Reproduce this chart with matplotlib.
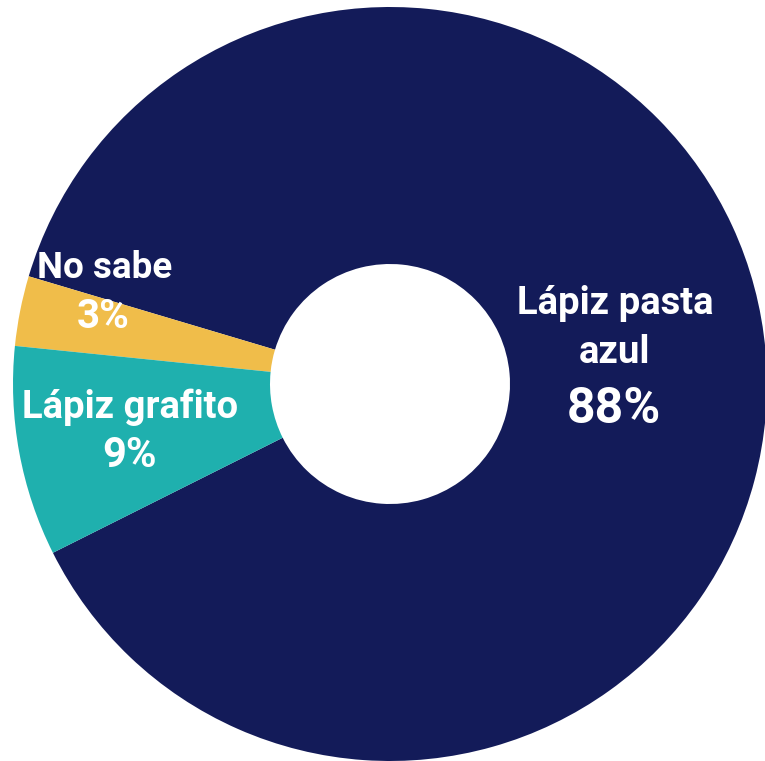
import matplotlib
matplotlib.use("Agg")
import matplotlib.pyplot as plt

# Datos (porcentajes)
categorias = ["Lápiz pasta\nazul", "No sabe", "Lápiz grafito"]
valores = [88, 3, 9]
colores = ["#131b59", "#f0bd4a", "#1fb0ae"]

fam = ["Roboto", "DejaVu Sans"]

fig = plt.figure(figsize=(7.65, 7.61), dpi=100)
ax = fig.add_axes([0, 0, 1, 1])
R = 377.0
ax.pie(valores, colors=colores, startangle=206.6, counterclock=True,
       radius=1.0, wedgeprops=dict(width=1 - 120 / R, linewidth=0))
ax.set_xlim(-390 / R, 375 / R)
ax.set_ylim(-377 / R, 384 / R)
ax.set_aspect("auto")
ax.axis("off")


def px(x, y):
    return (x - 390) / R, (384 - y) / R


# etiquetas
posiciones = [(615, 328), (105, 268), (130, 407)]
tam_cat = [27.5, 26.5, 27.5]
pos_pct = [(614, 410), (103, 317), (129, 456)]
tam_pct = [36, 29, 30]
for cat, val, p, s, q, t in zip(categorias, valores, posiciones, tam_cat, pos_pct, tam_pct):
    ax.text(*px(*p), cat, ha="center", va="center", color="white",
            fontsize=s, fontweight="bold", family=fam, linespacing=1.38)
    ax.text(*px(*q), f"{val}%", ha="center", va="center", color="white",
            fontsize=t, fontweight="bold", family=fam)

fig.savefig("out.png", dpi=100)
